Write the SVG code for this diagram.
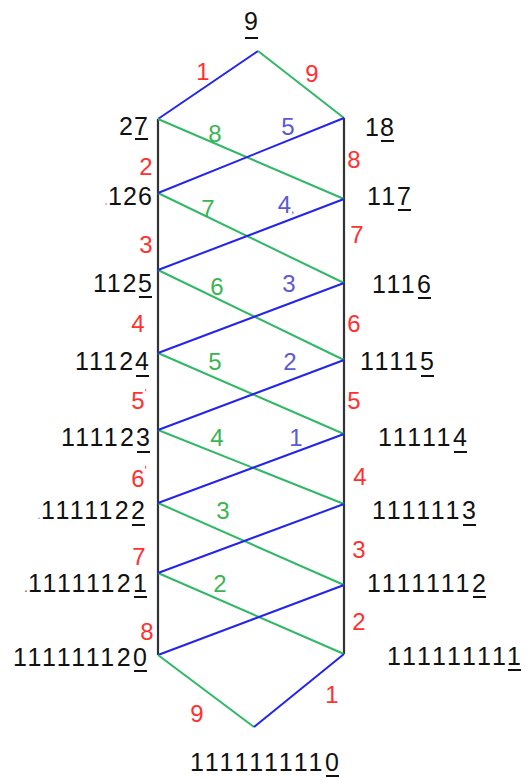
<svg xmlns="http://www.w3.org/2000/svg" width="526" height="778" viewBox="0 0 526 778">
<style>
.t{font-family:"Liberation Sans",Arial,sans-serif;font-size:25px;fill:#111}
.e{font-family:"Liberation Sans",Arial,sans-serif;font-size:24px;text-anchor:middle}
.r{fill:#ff3030}.g{fill:#3cb454}.b{fill:#5a5ad2}
.u{stroke:#111;stroke-width:2}
.bl{stroke:#2323ee;stroke-width:2;fill:none}
.gr{stroke:#2fb865;stroke-width:2;fill:none}
.v{stroke:#333;stroke-width:2.2;fill:none}
</style>
<rect width="526" height="778" fill="#fff"/>
<g id="connectors">
<line class="v" x1="158" y1="119" x2="158" y2="655"/>
<line class="v" x1="344" y1="118" x2="344" y2="654"/>
<line class="bl" x1="258" y1="51" x2="158" y2="119"/>
<line class="gr" x1="258" y1="51" x2="344" y2="118"/>
<line class="gr" x1="158" y1="119" x2="344" y2="199"/>
<line class="gr" x1="158" y1="193" x2="344" y2="283"/>
<line class="gr" x1="158" y1="270" x2="344" y2="360"/>
<line class="gr" x1="158" y1="353" x2="344" y2="434"/>
<line class="gr" x1="158" y1="430" x2="344" y2="504"/>
<line class="gr" x1="158" y1="503" x2="344" y2="585"/>
<line class="gr" x1="158" y1="573" x2="344" y2="654"/>
<line class="bl" x1="158" y1="193" x2="344" y2="118"/>
<line class="bl" x1="158" y1="270" x2="344" y2="199"/>
<line class="bl" x1="158" y1="353" x2="344" y2="283"/>
<line class="bl" x1="158" y1="430" x2="344" y2="360"/>
<line class="bl" x1="158" y1="503" x2="344" y2="434"/>
<line class="bl" x1="158" y1="573" x2="344" y2="504"/>
<line class="bl" x1="158" y1="655" x2="344" y2="585"/>
<line class="gr" x1="158" y1="655" x2="254" y2="727"/>
<line class="bl" x1="344" y1="654" x2="254" y2="727"/>
</g>
<g id="edge-labels">
<text class="e r" x="203" y="80">1</text>
<text class="e r" x="312" y="82">9</text>
<text class="e r" x="146" y="175">2</text>
<text class="e r" x="146" y="253">3</text>
<text class="e r" x="138" y="332">4</text>
<text class="e r" x="139" y="409">5<tspan font-size="10" dy="-12">'</tspan></text>
<text class="e r" x="139" y="487">6<tspan font-size="12" dy="-12">'</tspan></text>
<text class="e r" x="139" y="565">7</text>
<text class="e r" x="147" y="640">8</text>
<text class="e r" x="354" y="168">8</text>
<text class="e r" x="357" y="243">7</text>
<text class="e r" x="354" y="332">6</text>
<text class="e r" x="354" y="409">5</text>
<text class="e r" x="360" y="485">4</text>
<text class="e r" x="359" y="558">3</text>
<text class="e r" x="359" y="630">2</text>
<text class="e r" x="332" y="703">1</text>
<text class="e r" x="197" y="722">9</text>
<text class="e g" x="215" y="142">8</text>
<text class="e g" x="208" y="217">7</text>
<text class="e g" x="217" y="295">6</text>
<text class="e g" x="215" y="370">5</text>
<text class="e g" x="217" y="446">4</text>
<text class="e g" x="223" y="519">3</text>
<text class="e g" x="220" y="592">2</text>
<text class="e b" x="288" y="135">5</text>
<text class="e b" x="286" y="213">4<tspan font-size="12">,</tspan></text>
<text class="e b" x="289" y="292">3</text>
<text class="e b" x="290" y="370">2</text>
<text class="e b" x="296" y="446">1</text>
</g>
<g id="n-9"><text class="t" x="251" y="30" text-anchor="middle">9</text><line class="u" x1="245" y1="38" x2="258" y2="38"/></g>
<g id="n-27"><text class="t" x="148" y="135" text-anchor="end" textLength="29">27</text><line class="u" x1="135" y1="139" x2="148" y2="139"/></g>
<g id="n-126"><text class="t" x="152" y="205" text-anchor="end"><tspan fill="#9ab" font-size="14">.</tspan><tspan textLength="44">126</tspan></text></g>
<g id="n-1125"><text class="t" x="152" y="292" text-anchor="end" textLength="59">1125</text><line class="u" x1="139" y1="297" x2="152" y2="297"/></g>
<g id="n-11124"><text class="t" x="149" y="370" text-anchor="end" textLength="74">11124</text><line class="u" x1="136" y1="376" x2="149" y2="376"/></g>
<g id="n-111123"><text class="t" x="150" y="446" text-anchor="end" textLength="89">111123</text><line class="u" x1="137" y1="452" x2="150" y2="452"/></g>
<g id="n-1111122"><text class="t" x="145" y="519" text-anchor="end"><tspan fill="#9ab" font-size="14">.</tspan><tspan textLength="104">1111122</tspan></text><line class="u" x1="132" y1="525" x2="145" y2="525"/></g>
<g id="n-11111121"><text class="t" x="147" y="592" text-anchor="end"><tspan fill="#666" font-size="14">.</tspan><tspan textLength="119">11111121</tspan></text><line class="u" x1="134" y1="597" x2="147" y2="597"/></g>
<g id="n-111111120"><text class="t" x="147" y="666" text-anchor="end" textLength="134">111111120</text><line class="u" x1="134" y1="671" x2="147" y2="671"/></g>
<g id="n-18"><text class="t" x="365" y="136" textLength="29">18</text><line class="u" x1="381" y1="141" x2="394" y2="141"/></g>
<g id="n-117"><text class="t" x="367" y="205" textLength="44">117</text><line class="u" x1="398" y1="210" x2="411" y2="210"/></g>
<g id="n-1116"><text class="t" x="372" y="293" textLength="59">1116</text><line class="u" x1="418" y1="298" x2="431" y2="298"/></g>
<g id="n-11115"><text class="t" x="360" y="370" textLength="74">11115</text><line class="u" x1="421" y1="376" x2="434" y2="376"/></g>
<g id="n-111114"><text class="t" x="378" y="446" textLength="89">111114</text><line class="u" x1="454" y1="452" x2="467" y2="452"/></g>
<g id="n-1111113"><text class="t" x="372" y="519" textLength="104">1111113</text><line class="u" x1="463" y1="525" x2="476" y2="525"/></g>
<g id="n-11111112"><text class="t" x="367" y="592" textLength="119">11111112</text><line class="u" x1="473" y1="597" x2="486" y2="597"/></g>
<g id="n-111111111"><text class="t" x="387" y="665" textLength="134">111111111</text><line class="u" x1="508" y1="670" x2="521" y2="670"/></g>
<g id="n-1111111110"><text class="t" x="190" y="771" textLength="149">1111111110</text><line class="u" x1="326" y1="776" x2="339" y2="776"/></g>
</svg>
